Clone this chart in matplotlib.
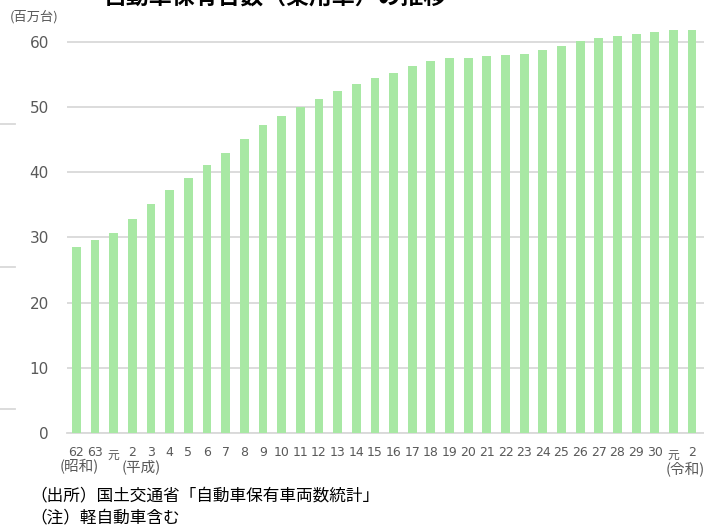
import matplotlib
matplotlib.use("Agg")
import matplotlib.pyplot as plt
from matplotlib.lines import Line2D
import matplotlib.transforms as mtransforms

# Passenger car ownership in Japan (millions), FY Showa 62 through Reiwa 2
year_labels = ["62", "63", "元"] + [str(y) for y in range(2, 31)] + ["元", "2"]
vehicles_millions = [
    28.5, 29.6, 30.7, 32.9, 35.1, 37.3, 39.2, 41.1, 43.0, 45.1,
    47.2, 48.7, 50.0, 51.3, 52.5, 53.5, 54.5, 55.3, 56.3, 57.1,
    57.5, 57.6, 57.8, 58.0, 58.2, 58.8, 59.4, 60.1, 60.6, 60.9,
    61.3, 61.6, 61.8, 61.8,
]
y_ticks = [0, 10, 20, 30, 40, 50, 60]
era_labels = [("(昭和)", 0.15), ("(平成)", 3.5), ("(令和)", 32.65)]

title = "自動車保有台数（乗用車）の推移"
unit_label = "(百万台)"
notes = ["（出所）国土交通省「自動車保有車両数統計」", "（注）軽自動車含む"]

BAR_COLOR = "#a8e8a4"
GRID_COLOR = "#d9d9d9"
TEXT_COLOR = "#595959"
CJK = ["Noto Sans CJK JP", "DejaVu Sans"]
NUM = ["DejaVu Sans", "Noto Sans CJK JP"]

W, H = 704, 528
fig = plt.figure(figsize=(W / 100, H / 100), dpi=100)

pitch = 18.66
ax_left, ax_right = 67 / W, 704 / W
ax_bottom = (H - 433) / H
ymax = 62.5
ax_height = 6.517 * ymax / H
ax = fig.add_axes([ax_left, ax_bottom, ax_right - ax_left, ax_height])

x = list(range(len(vehicles_millions)))
ax.bar(x, vehicles_millions, width=0.47, color=BAR_COLOR, zorder=3)

ax.set_xlim(-0.5, -0.5 + (704 - 67) / pitch)
ax.set_ylim(0, ymax)
ax.set_yticks(y_ticks)
ax.set_yticklabels([str(v) for v in y_ticks], fontsize=11, color=TEXT_COLOR,
                   family=NUM)
ax.tick_params(axis="y", length=0, pad=13)
ax.set_xticks([])
ax.grid(axis="y", color=GRID_COLOR, linewidth=1.3, zorder=0)
for side in ("top", "right", "left"):
    ax.spines[side].set_visible(False)
ax.spines["bottom"].set_color(GRID_COLOR)
ax.spines["bottom"].set_linewidth(1.3)

# Category labels under each bar
blend = mtransforms.blended_transform_factory(ax.transData, fig.transFigure)
for xi, lab in zip(x, year_labels):
    if lab == "元":
        ax.text(xi, (H - 455) / H, lab, transform=blend, ha="center",
                va="center", fontsize=8.5, color=TEXT_COLOR, family=CJK)
    else:
        ax.text(xi, (H - 452) / H, lab, transform=blend, ha="center",
                va="center", fontsize=9, color=TEXT_COLOR, family=NUM)

for lab, xpos in era_labels:
    ypix = 470 if lab == "(令和)" else 467
    ax.text(xpos, (H - ypix) / H, lab, transform=blend, ha="center",
            va="center", fontsize=10.5, color=TEXT_COLOR, family=CJK)

# Title (partly above the top edge), unit label and notes
fig.text(275 / W, (H - 5) / H, title, ha="center", va="baseline",
         fontsize=16.5, fontweight="bold", color="black", family=CJK)
fig.text(34 / W, (H - 17) / H, unit_label, ha="center", va="center",
         fontsize=9.5, color=TEXT_COLOR, family=CJK)
fig.text(30 / W, (H - 496) / H, notes[0], ha="left", va="center",
         fontsize=12, color="black", family=CJK)
fig.text(30 / W, (H - 518) / H, notes[1], ha="left", va="center",
         fontsize=12, color="black", family=CJK)

# Short rule stubs along the left edge
for ypix in (124, 267, 409):
    fig.add_artist(Line2D([0, 15 / W], [(H - ypix) / H] * 2,
                          color=GRID_COLOR, linewidth=1.3,
                          transform=fig.transFigure))

fig.savefig("out.png", dpi=100)
